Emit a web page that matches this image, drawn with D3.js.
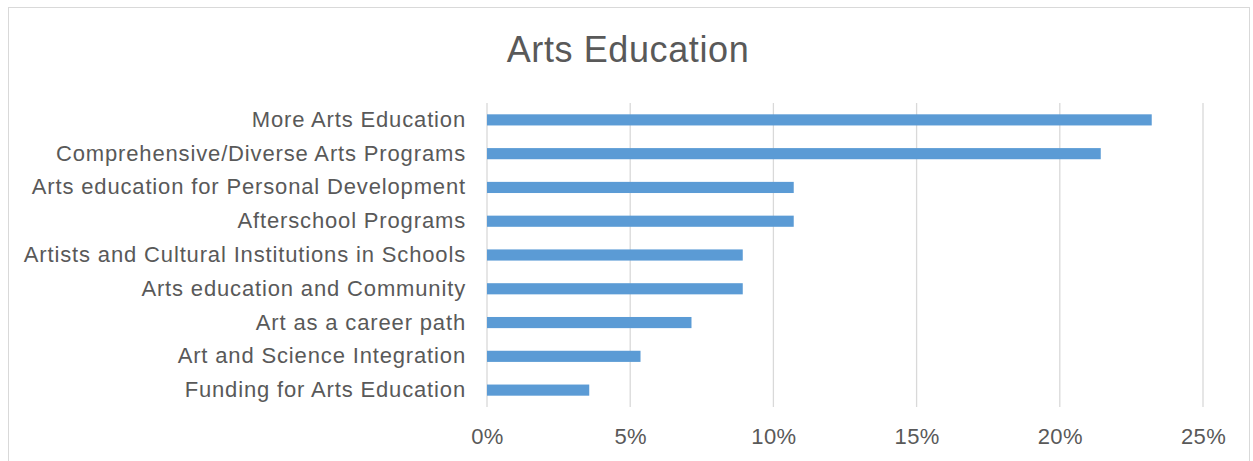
<!DOCTYPE html>
<html><head><meta charset="utf-8">
<script src="https://cdn.jsdelivr.net/npm/d3@7"></script>
<style>body{margin:0;background:#fff}text{font-family:"Liberation Sans",Arial,sans-serif}</style>
</head><body><svg id="c" width="1253" height="461"></svg>
<script>
const categories = ["More Arts Education","Comprehensive/Diverse Arts Programs","Arts education for Personal Development","Afterschool Programs","Artists and Cultural Institutions in Schools","Arts education and Community","Art as a career path","Art and Science Integration","Funding for Arts Education"];
const values = [0.2321, 0.2143, 0.1071, 0.1071, 0.0893, 0.0893, 0.0714, 0.0536, 0.0357];
const tickValues = [0, 0.05, 0.10, 0.15, 0.20, 0.25];
const title = "Arts Education";

const svg = d3.select("#c");
svg.append("rect").attr("x",8.5).attr("y",7.5).attr("width",1241).attr("height",470)
  .attr("fill","#fff").attr("stroke","#d9d9d9");

const x = d3.scaleLinear().domain([0,0.25]).range([487,1203]);
const y = d3.scaleBand().domain(categories).range([103,407]).paddingInner(0.67).paddingOuter(0.335);

svg.append("g").selectAll("line").data(tickValues).join("line")
  .attr("x1",d=>x(d)).attr("x2",d=>x(d)).attr("y1",103).attr("y2",407)
  .attr("stroke","#d9d9d9").attr("stroke-width",1.3);

svg.append("g").selectAll("rect").data(values).join("rect")
  .attr("x",x(0)).attr("y",(d,i)=>y(categories[i]))
  .attr("width",d=>x(d)-x(0)).attr("height",y.bandwidth())
  .attr("fill","#5b9bd5");

const yAxis = svg.append("g").attr("transform","translate(487,0)")
  .call(d3.axisLeft(y).tickSize(0).tickPadding(21));
yAxis.select(".domain").remove();
yAxis.selectAll("text").attr("fill","#595959").style("font-size","22px").style("letter-spacing","0.85px")
  .style("font-family","'Liberation Sans',Arial,sans-serif");

const xAxis = svg.append("g").attr("transform","translate(0,407)")
  .call(d3.axisBottom(x).tickValues(tickValues).tickFormat(d3.format(".0%")).tickSize(0).tickPadding(21));
xAxis.select(".domain").remove();
xAxis.selectAll("text").attr("fill","#595959").style("font-size","22px").style("letter-spacing","0.4px")
  .style("font-family","'Liberation Sans',Arial,sans-serif");

svg.append("text").attr("x",628).attr("y",62).attr("text-anchor","middle")
  .attr("fill","#595959").style("font-size","36px").style("letter-spacing","0.6px").text(title);
</script></body></html>
